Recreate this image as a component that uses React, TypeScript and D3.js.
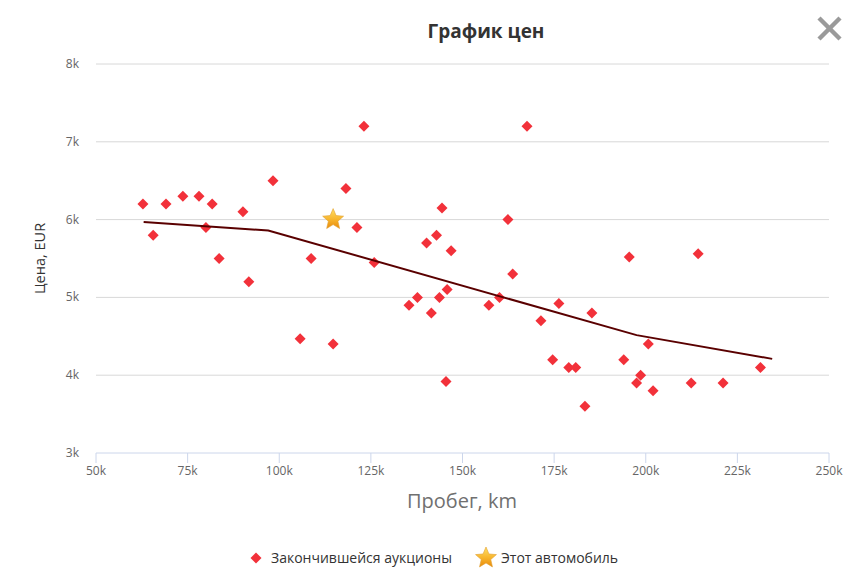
import React from "react";
import * as d3 from "d3";

const W = 860;
const H = 580;

const auctionMileage = [
  62800, 65600, 69100, 73700, 78100, 80000, 81700, 83600, 90100, 91700,
  98300, 105700, 108700, 114700, 118200, 121200, 123100, 125900,
  144400, 162400, 140200, 142900, 146900, 163700, 195500, 214300,
  135400, 137700, 143700, 145800, 141500, 157200, 160100, 176300,
  171400, 185300, 200700, 174600, 179000, 180900, 194000, 198600,
  197500, 202000, 212400, 221100, 231300, 145500, 183400, 167600,
];
const auctionPrice = [
  6200, 5800, 6200, 6300, 6300, 5900, 6200, 5500, 6100, 5200,
  6500, 4470, 5500, 4400, 6400, 5900, 7200, 5450,
  6150, 6000, 5700, 5800, 5600, 5300, 5520, 5560,
  4900, 5000, 5000, 5100, 4800, 4900, 5000, 4920,
  4700, 4800, 4400, 4200, 4100, 4100, 4200, 4000,
  3900, 3800, 3900, 3900, 4100, 3920, 3600, 7200,
];
const thisCarMileage = [114700];
const thisCarPrice = [6000];
const trendMileage = [63000, 97000, 197500, 234500];
const trendPrice = [5970, 5860, 4515, 4210];

const xTicks = [50000, 75000, 100000, 125000, 150000, 175000, 200000, 225000, 250000];
const yTicks = [3000, 4000, 5000, 6000, 7000, 8000];

const title = "График цен";
const xTitle = "Пробег, km";
const yTitle = "Цена, EUR";
const legendAuction = "Закончившейся аукционы";
const legendThisCar = "Этот автомобиль";

const FONT = "'Open Sans', 'DejaVu Sans', sans-serif";

const plot = { left: 96, right: 829, top: 64, bottom: 453 };

function starPath(cx: number, cy: number, rOuter: number, rInner: number) {
  const pts: [number, number][] = [];
  for (let i = 0; i < 10; i++) {
    const r = i % 2 === 0 ? rOuter : rInner;
    const a = -Math.PI / 2 + (i * Math.PI) / 5;
    pts.push([cx + r * Math.cos(a), cy + r * Math.sin(a)]);
  }
  return "M" + pts.map((p) => p.join(",")).join("L") + "Z";
}

function diamond(cx: number, cy: number, r: number) {
  return `M${cx},${cy - r}L${cx + r},${cy}L${cx},${cy + r}L${cx - r},${cy}Z`;
}

export default function App() {
  const x = d3.scaleLinear().domain([50000, 250000]).range([plot.left, plot.right]);
  const y = d3.scaleLinear().domain([3000, 8000]).range([plot.bottom, plot.top]);
  const fmt = (v: number) => `${v / 1000}k`;

  const line = d3
    .line<number>()
    .x((_, i) => x(trendMileage[i]))
    .y((_, i) => y(trendPrice[i]));

  return (
    <svg
      width={W}
      height={H}
      style={{ position: "absolute", left: 0, top: 0, background: "#fff" }}
      fontFamily={FONT}
    >
      <defs>
        <linearGradient id="starGrad" x1="0" y1="0" x2="0" y2="1">
          <stop offset="0%" stopColor="#ffe066" />
          <stop offset="55%" stopColor="#f7b42c" />
          <stop offset="100%" stopColor="#e88a0c" />
        </linearGradient>
      </defs>

      {/* Title */}
      <text x={486} y={38} textAnchor="middle" fontSize={19} fontWeight="bold" fill="#333">
        {title}
      </text>

      {/* Close button */}
      <g stroke="#9a9a9a" strokeWidth={4.5} strokeLinecap="butt">
        <line x1={819} y1={18} x2={840} y2={39} />
        <line x1={840} y1={18} x2={819} y2={39} />
      </g>

      {/* Grid lines */}
      {yTicks.slice(1).map((t) => (
        <line key={t} x1={plot.left} x2={plot.right} y1={y(t)} y2={y(t)} stroke="#d8d8d8" strokeWidth={1} />
      ))}

      {/* X axis */}
      <line x1={plot.left} x2={plot.right} y1={plot.bottom} y2={plot.bottom} stroke="#ccd6eb" strokeWidth={1} />
      {xTicks.map((t) => (
        <g key={t}>
          <line x1={x(t)} x2={x(t)} y1={plot.bottom} y2={plot.bottom + 10} stroke="#ccd6eb" strokeWidth={1} />
          <text x={x(t)} y={plot.bottom + 22} textAnchor="middle" fontSize={12} fill="#666">
            {fmt(t)}
          </text>
        </g>
      ))}

      {/* Y axis labels */}
      {yTicks.map((t) => (
        <text key={t} x={79} y={y(t) + 4} textAnchor="end" fontSize={12} fill="#666">
          {fmt(t)}
        </text>
      ))}

      {/* Axis titles */}
      <text x={462} y={508} textAnchor="middle" fontSize={20} fill="#707070">
        {xTitle}
      </text>
      <text
        transform={`translate(45, ${(plot.top + plot.bottom) / 2}) rotate(-90)`}
        textAnchor="middle"
        fontSize={14.5}
        fill="#333"
      >
        {yTitle}
      </text>

      {/* Auctions */}
      {auctionMileage.map((m, i) => (
        <path key={i} d={diamond(x(m), y(auctionPrice[i]), 5.5)} fill="#f2313a" />
      ))}

      {/* Trend line */}
      <path d={line(trendMileage) || ""} fill="none" stroke="#5a0000" strokeWidth={2} />

      {/* This car */}
      {thisCarMileage.map((m, i) => (
        <path
          key={i}
          d={starPath(x(m), y(thisCarPrice[i]), 11, 5)}
          fill="url(#starGrad)"
          stroke="#e0a030"
          strokeWidth={0.6}
          strokeLinejoin="round"
        />
      ))}

      {/* Legend */}
      <path d={diamond(256, 558, 5.5)} fill="#f2313a" />
      <text x={271} y={563} fontSize={14} fill="#333">
        {legendAuction}
      </text>
      <path d={starPath(486, 558, 11, 5)} fill="url(#starGrad)" stroke="#e0a030" strokeWidth={0.6} strokeLinejoin="round" />
      <text x={501} y={563} fontSize={14} fill="#333">
        {legendThisCar}
      </text>
    </svg>
  );
}
